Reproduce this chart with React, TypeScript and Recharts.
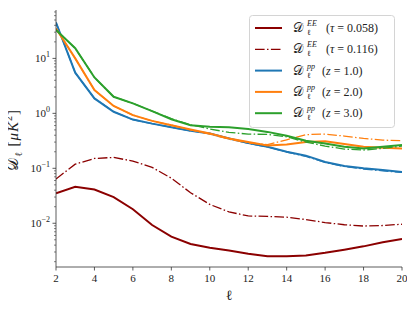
import React from "react";
import { LineChart, Line, XAxis, YAxis } from "recharts";

const ELL = [2, 3, 4, 5, 6, 7, 8, 9, 10, 11, 12, 13, 14, 15, 16, 17, 18, 19, 20];
const EE_TAU_0058 = [0.035, 0.046, 0.041, 0.030, 0.018, 0.0093, 0.0057, 0.0042, 0.0036, 0.0032, 0.0028, 0.0025, 0.0025, 0.0026, 0.0029, 0.0033, 0.0038, 0.0045, 0.0052];
const EE_TAU_0116 = [0.064, 0.119, 0.151, 0.158, 0.135, 0.104, 0.066, 0.036, 0.022, 0.0161, 0.0136, 0.0133, 0.0129, 0.0117, 0.0103, 0.0094, 0.0089, 0.0091, 0.0096];
const PP_Z1 = [45, 5.5, 1.87, 1.07, 0.77, 0.65, 0.56, 0.48, 0.43, 0.35, 0.29, 0.247, 0.2, 0.17, 0.13, 0.11, 0.1, 0.093, 0.086];
const PP_Z1_ALT = [45, 5.5, 1.87, 1.07, 0.77, 0.65, 0.56, 0.48, 0.43, 0.35, 0.285, 0.245, 0.198, 0.165, 0.128, 0.108, 0.097, 0.09, 0.084];
const PP_Z2 = [35, 10, 2.65, 1.36, 0.93, 0.73, 0.61, 0.51, 0.43, 0.35, 0.30, 0.26, 0.27, 0.30, 0.31, 0.276, 0.246, 0.236, 0.23];
const PP_Z2_ALT = [35, 10, 2.65, 1.36, 0.93, 0.73, 0.61, 0.5, 0.42, 0.34, 0.29, 0.27, 0.33, 0.41, 0.42, 0.386, 0.35, 0.326, 0.317];
const PP_Z3 = [33, 15.3, 4.5, 2.0, 1.52, 1.1, 0.78, 0.61, 0.57, 0.556, 0.518, 0.46, 0.39, 0.317, 0.284, 0.246, 0.23, 0.246, 0.265];
const PP_Z3_ALT = [33, 15.3, 4.5, 2.0, 1.52, 1.1, 0.8, 0.62, 0.52, 0.45, 0.42, 0.414, 0.375, 0.30, 0.254, 0.224, 0.215, 0.23, 0.254];

const X_TICKS = [2, 4, 6, 8, 10, 12, 14, 16, 18, 20];
const Y_MAJOR = [0.01, 0.1, 1, 10];
const Y_MINOR = [0.002, 0.003, 0.004, 0.005, 0.006, 0.007, 0.008, 0.009, 0.02, 0.03, 0.04, 0.05, 0.06, 0.07, 0.08, 0.09, 0.2, 0.3, 0.4, 0.5, 0.6, 0.7, 0.8, 0.9, 2, 3, 4, 5, 6, 7, 8, 9, 20, 30, 40, 50, 60, 70];
const Y_DOMAIN = [0.0016, 76];

const DARKRED = "#8b0000";
const BLUE = "#1f77b4";
const ORANGE = "#ff7f0e";
const GREEN = "#2ca02c";
const DASHDOT = "9.6 2.4 1.5 2.4";

const data = ELL.map((l, i) => ({
  l,
  ee1: EE_TAU_0058[i],
  ee2: EE_TAU_0116[i],
  z1: PP_Z1[i],
  z1b: PP_Z1_ALT[i],
  z2: PP_Z2[i],
  z2b: PP_Z2_ALT[i],
  z3: PP_Z3[i],
  z3b: PP_Z3_ALT[i],
}));

const SERIF = "'Liberation Serif', 'DejaVu Serif', serif";
const SPINE = "#333";
const TXT = { fontFamily: SERIF };

const XTick = (props: any) => {
  const { x, y, payload } = props;
  return (
    <g>
      <line x1={x} x2={x} y1={y} y2={y + 3.5} stroke={SPINE} strokeWidth={0.8} />
      <text x={x} y={y + 15} textAnchor="middle" style={TXT} fontSize={11} fill="#222">
        {payload.value}
      </text>
    </g>
  );
};

const YTick = (props: any) => {
  const { x, y, payload } = props;
  const v = payload.value;
  const isMajor = Y_MAJOR.some((m) => Math.abs(m - v) / m < 1e-6);
  if (!isMajor) {
    return <line x1={x - 2} x2={x} y1={y} y2={y} stroke={SPINE} strokeWidth={0.6} />;
  }
  const exp = Math.round(Math.log10(v));
  const expStr = exp < 0 ? "\u2212" + String(-exp) : String(exp);
  return (
    <g>
      <line x1={x - 3.5} x2={x} y1={y} y2={y} stroke={SPINE} strokeWidth={0.8} />
      <text x={x - 6} y={y + 4} textAnchor="end" style={TXT} fontSize={11} fill="#222">
        <tspan>10</tspan>
        <tspan dy={-5} fontSize={8}>{expStr}</tspan>
      </text>
    </g>
  );
};

const YLabel = (props: any) => {
  const vb = props.viewBox || { x: 0, y: 10, width: 56, height: 257 };
  const cx = vb.x + 13;
  const cy = vb.y + vb.height / 2;
  return (
    <g transform={`translate(${cx},${cy}) rotate(-90)`}>
      <text x={-32} y={5} style={TXT} fontSize={16} fill="#222">{"\u{1D49F}"}</text>
      <text x={-18} y={9} style={TXT} fontSize={10} fill="#222">{"\u2113"}</text>
      <text x={-8} y={5} style={TXT} fontSize={15} fill="#222">
        <tspan>[</tspan>
        <tspan fontStyle="italic" dx={1}>{"\u03BC"}</tspan>
        <tspan fontStyle="italic" dx={1}>K</tspan>
        <tspan dy={-6} fontSize={10} dx={1}>2</tspan>
        <tspan dy={6} dx={1}>]</tspan>
      </text>
    </g>
  );
};

const XLabel = (props: any) => {
  const vb = props.viewBox || { x: 56, y: 267, width: 346, height: 43 };
  return (
    <text x={vb.x + vb.width / 2} y={vb.y + 33} textAnchor="middle" style={TXT} fontSize={14} fill="#222">
      {"\u2113"}
    </text>
  );
};

type Entry = { color: string; dash?: string; width: number; sup: string; param: string; value: string };
const LEGEND: Entry[] = [
  { color: DARKRED, width: 2, sup: "EE", param: "\u03C4", value: "0.058" },
  { color: DARKRED, dash: DASHDOT, width: 1.3, sup: "EE", param: "\u03C4", value: "0.116" },
  { color: BLUE, width: 2, sup: "pp", param: "z", value: "1.0" },
  { color: ORANGE, width: 2, sup: "pp", param: "z", value: "2.0" },
  { color: GREEN, width: 2, sup: "pp", param: "z", value: "3.0" },
];

const LegendBox = () => (
  <svg width={147} height={114} style={{ position: "absolute", left: 249, top: 15 }}>
    <rect x={0.5} y={0.5} width={145} height={112} rx={3} fill="#fff" fillOpacity={0.85} stroke="#d4d4d4" />
    {LEGEND.map((e, i) => {
      const cy = 13 + i * 21.3;
      return (
        <g key={i}>
          <line x1={6} x2={33} y1={cy} y2={cy} stroke={e.color} strokeWidth={e.width} strokeDasharray={e.dash} />
          <text x={44} y={cy + 4} style={TXT} fontSize={13} fill="#222">{"\u{1D49F}"}</text>
          <text x={58} y={cy - 2} style={TXT} fontSize={8} fontStyle="italic" fill="#222">{e.sup}</text>
          <text x={58} y={cy + 7} style={TXT} fontSize={8} fill="#222">{"\u2113"}</text>
          <text x={e.sup === "EE" ? 77 : 73} y={cy + 4} style={TXT} fontSize={12} fill="#222">
            <tspan>(</tspan>
            <tspan fontStyle="italic">{e.param}</tspan>
            <tspan dx={3}>=</tspan>
            <tspan dx={3}>{e.value + ")"}</tspan>
          </text>
        </g>
      );
    })}
  </svg>
);

export default function App() {
  return (
    <div style={{ position: "relative", left: -8, top: -8, width: 415, height: 310 }}>
      <LineChart width={415} height={310} data={data} margin={{ top: 10, right: 13, bottom: 0, left: 0 }}>
        <XAxis
          xAxisId="b"
          dataKey="l"
          type="number"
          domain={[2, 20]}
          ticks={X_TICKS}
          height={43}
          tickSize={0}
          tickMargin={0}
          tickLine={false}
          tick={<XTick />}
          axisLine={{ stroke: SPINE, strokeWidth: 0.8 }}
          label={<XLabel />}
          allowDataOverflow
        />
        <XAxis
          xAxisId="t"
          orientation="top"
          dataKey="l"
          type="number"
          domain={[2, 20]}
          height={0}
          tick={false}
          tickLine={false}
          axisLine={{ stroke: SPINE, strokeWidth: 0.8 }}
        />
        <YAxis
          yAxisId="l"
          type="number"
          scale="log"
          domain={Y_DOMAIN}
          ticks={[...Y_MINOR, ...Y_MAJOR]}
          width={56}
          tickSize={0}
          tickMargin={0}
          tickLine={false}
          tick={<YTick />}
          interval={0}
          axisLine={{ stroke: SPINE, strokeWidth: 0.8 }}
          label={<YLabel />}
          allowDataOverflow
        />
        <YAxis
          yAxisId="r"
          orientation="right"
          type="number"
          scale="log"
          domain={Y_DOMAIN}
          width={0}
          tick={false}
          tickLine={false}
          axisLine={{ stroke: SPINE, strokeWidth: 0.8 }}
        />
        <Line xAxisId="b" yAxisId="l" dataKey="ee1" stroke={DARKRED} strokeWidth={2} dot={false} isAnimationActive={false} type="linear" />
        <Line xAxisId="b" yAxisId="l" dataKey="ee2" stroke={DARKRED} strokeWidth={1.3} strokeDasharray={DASHDOT} dot={false} isAnimationActive={false} type="linear" />
        <Line xAxisId="b" yAxisId="l" dataKey="z1" stroke={BLUE} strokeWidth={2} dot={false} isAnimationActive={false} type="linear" />
        <Line xAxisId="b" yAxisId="l" dataKey="z1b" stroke={BLUE} strokeWidth={1.3} strokeDasharray={DASHDOT} dot={false} isAnimationActive={false} type="linear" />
        <Line xAxisId="b" yAxisId="l" dataKey="z2" stroke={ORANGE} strokeWidth={2} dot={false} isAnimationActive={false} type="linear" />
        <Line xAxisId="b" yAxisId="l" dataKey="z2b" stroke={ORANGE} strokeWidth={1.3} strokeDasharray={DASHDOT} dot={false} isAnimationActive={false} type="linear" />
        <Line xAxisId="b" yAxisId="l" dataKey="z3" stroke={GREEN} strokeWidth={2} dot={false} isAnimationActive={false} type="linear" />
        <Line xAxisId="b" yAxisId="l" dataKey="z3b" stroke={GREEN} strokeWidth={1.3} strokeDasharray={DASHDOT} dot={false} isAnimationActive={false} type="linear" />
      </LineChart>
      <LegendBox />
    </div>
  );
}
